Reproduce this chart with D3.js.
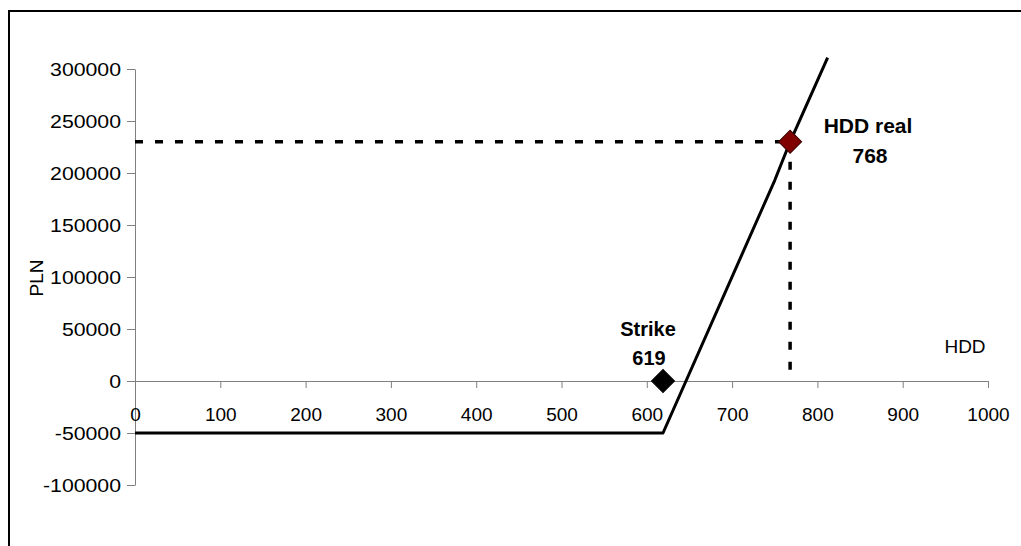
<!DOCTYPE html>
<html>
<head>
<meta charset="utf-8">
<script src="https://cdn.jsdelivr.net/npm/d3@7"></script>
<style>
  html, body { margin: 0; padding: 0; background: #ffffff; }
  svg { display: block; }
  text { font-family: "Liberation Sans", Arial, sans-serif; fill: #000; }
</style>
</head>
<body>
<script>
// ---- data ----
const hddValues = [0, 619, 750, 768, 812];
const plnValues = [-50000, -50000, 193000, 230000, 311000];
const strikeHDD = 619;
const strikeValue = 0;
const realHDD = 768;
const realValue = 230000;
const xTicks = [0, 100, 200, 300, 400, 500, 600, 700, 800, 900, 1000];
const yTicks = [-100000, -50000, 0, 50000, 100000, 150000, 200000, 250000, 300000];
const strikeLabels = ["Strike", "619"];
const realLabels = ["HDD real", "768"];

const W = 1021, H = 546;
const svg = d3.select("body").append("svg").attr("width", W).attr("height", H);

// chart frame (only top and left edges visible)
svg.append("path").attr("d", `M9,${H} L9,11 L${W},11`)
  .attr("fill", "none").attr("stroke", "#000").attr("stroke-width", 2);

const x = d3.scaleLinear().domain([0, 1000]).range([135, 988]);
const y = d3.scaleLinear().domain([-100000, 300000]).range([485, 69]);

// y axis
const yAxis = svg.append("g").attr("transform", `translate(${x(0)},0)`)
  .call(d3.axisLeft(y).tickValues(yTicks).tickSize(8).tickSizeOuter(0).tickFormat(d => String(d)));
yAxis.select(".domain").attr("stroke", "#808080");
yAxis.selectAll(".tick line").attr("stroke", "#808080");
yAxis.selectAll(".tick text")
  .attr("x", -14 / 1.15).attr("dy", "0.36em")
  .attr("transform", "scale(1.15,1)")
  .style("font-size", "18.5px").attr("font-family", null);

// x axis at y=0
const xAxis = svg.append("g").attr("transform", `translate(0,${y(0)})`)
  .call(d3.axisBottom(x).tickValues(xTicks).tickSize(7).tickSizeOuter(0).tickFormat(d => String(d)));
xAxis.select(".domain").attr("stroke", "#808080");
xAxis.selectAll(".tick line").attr("stroke", "#808080");
xAxis.selectAll(".tick text")
  .attr("y", 40).attr("dy", 0)
  .style("font-size", "19px").attr("font-family", null);

// axis titles
svg.append("text").attr("x", 965).attr("y", 353).attr("text-anchor", "middle")
  .style("font-size", "19px").text("HDD");
svg.append("text").attr("transform", "translate(43,278) rotate(-90)").attr("text-anchor", "middle")
  .style("font-size", "19px").text("PLN");

// dashed guides
const dash = "8,12";
svg.append("line")
  .attr("x1", x(0)).attr("x2", x(realHDD)).attr("y1", y(realValue)).attr("y2", y(realValue))
  .attr("stroke", "#000").attr("stroke-width", 3.5).attr("stroke-dasharray", dash);
svg.append("line")
  .attr("x1", x(realHDD)).attr("x2", x(realHDD)).attr("y1", y(realValue)).attr("y2", y(0))
  .attr("stroke", "#000").attr("stroke-width", 3.5).attr("stroke-dasharray", dash);

// payoff line
const pts = hddValues.map((h, i) => [h, plnValues[i]]);
svg.append("path").datum(pts)
  .attr("d", d3.line().x(d => x(d[0])).y(d => y(d[1])))
  .attr("fill", "none").attr("stroke", "#000").attr("stroke-width", 3)
  .attr("stroke-linejoin", "round");

// markers
const diamond = d3.symbol().type(d3.symbolSquare).size(265);
svg.append("path").attr("d", diamond())
  .attr("transform", `translate(${x(strikeHDD)},${y(strikeValue)}) rotate(45)`)
  .attr("fill", "#000").attr("stroke", "#000").attr("stroke-width", 1);
svg.append("path").attr("d", diamond())
  .attr("transform", `translate(${x(realHDD)},${y(realValue)}) rotate(45)`)
  .attr("fill", "#800000").attr("stroke", "#3a0000").attr("stroke-width", 1);

// annotations
svg.append("text").attr("x", 648).attr("y", 336).attr("text-anchor", "middle")
  .style("font-size", "20px").style("font-weight", "bold").text(strikeLabels[0]);
svg.append("text").attr("x", 649).attr("y", 365).attr("text-anchor", "middle")
  .style("font-size", "20px").style("font-weight", "bold").text(strikeLabels[1]);
svg.append("text").attr("x", 868).attr("y", 133).attr("text-anchor", "middle")
  .style("font-size", "21px").style("font-weight", "bold").text(realLabels[0]);
svg.append("text").attr("x", 870).attr("y", 163).attr("text-anchor", "middle")
  .style("font-size", "21px").style("font-weight", "bold").text(realLabels[1]);
</script>
</body>
</html>
